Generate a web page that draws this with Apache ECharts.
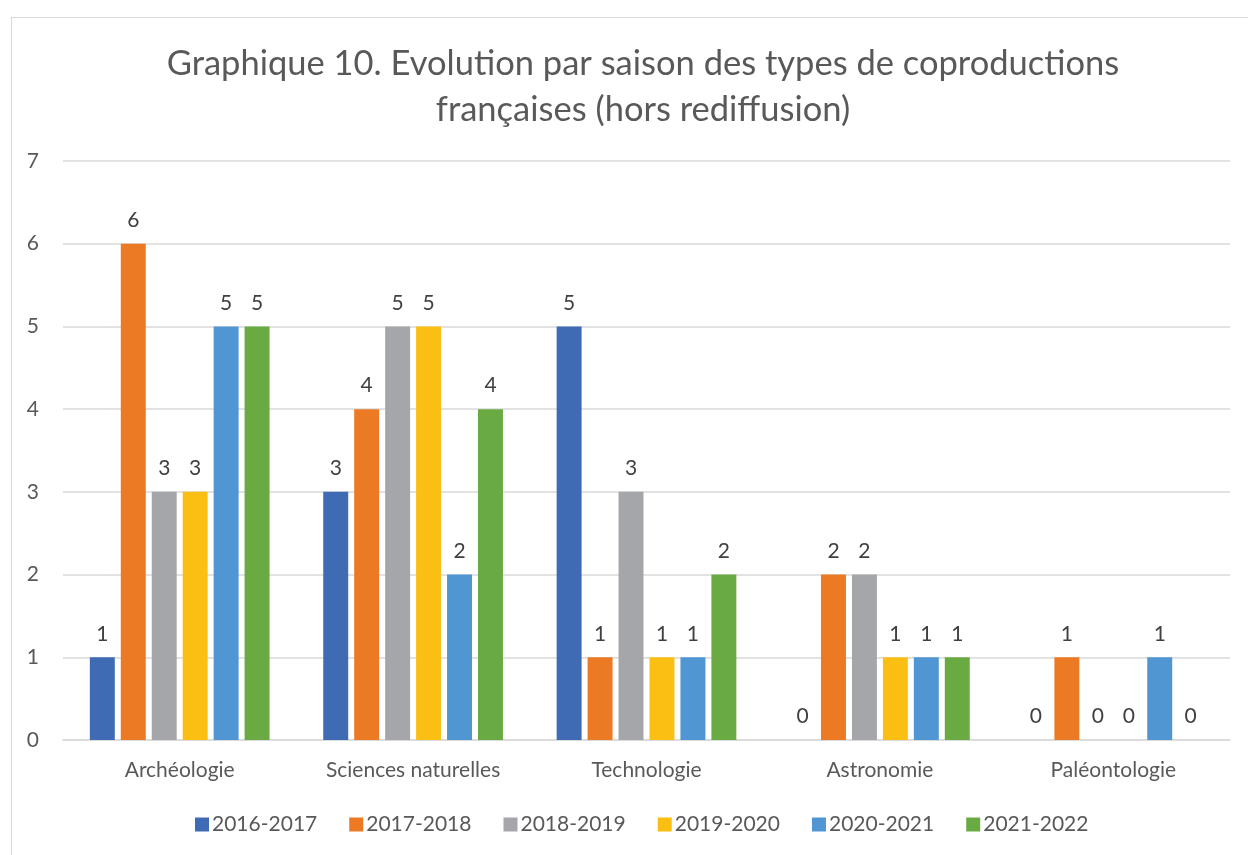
<!DOCTYPE html>
<html>
<head>
<meta charset="utf-8">
<script src="https://cdn.jsdelivr.net/npm/echarts@6/dist/echarts.min.js"></script>
<style>
html,body{margin:0;padding:0;background:#fff;}
#frame{position:absolute;left:11px;top:17px;width:1260px;height:860px;border:1px solid #d9d9d9;box-sizing:border-box;}
#chart{position:absolute;left:0;top:0;width:1248px;height:855px;}
</style>
</head>
<body>
<div id="frame"></div>
<div id="chart"></div>
<script>
const categories = ['Archéologie', 'Sciences naturelles', 'Technologie', 'Astronomie', 'Paléontologie'];
const seasons = ['2016-2017', '2017-2018', '2018-2019', '2019-2020', '2020-2021', '2021-2022'];
const s2016 = [1, 3, 5, 0, 0];
const s2017 = [6, 4, 1, 2, 1];
const s2018 = [3, 5, 3, 2, 0];
const s2019 = [3, 5, 1, 1, 0];
const s2020 = [5, 2, 1, 1, 1];
const s2021 = [5, 4, 2, 1, 0];
const yTicks = [0, 7, 1];
const colors = ['#3E6BB4', '#EC7A25', '#A5A6A9', '#FBBF13', '#5096D3', '#6AAA43'];
const values = [s2016, s2017, s2018, s2019, s2020, s2021];
const FONT = 'Lato';
const chart = echarts.init(document.getElementById('chart'), null, {renderer: 'canvas'});
chart.setOption({
  animation: false,
  color: colors,
  title: {
    text: 'Graphique 10. Evolution par saison des types de coproductions\nfrançaises (hors rediffusion)',
    left: 638, top: 36, textAlign: 'center',
    textStyle: {fontFamily: FONT, fontSize: 34.5, fontWeight: 'normal', color: '#595959', lineHeight: 46}
  },
  legend: {
    data: seasons, bottom: 15, left: 190, itemWidth: 14, itemHeight: 14, itemGap: 32,
    icon: 'rect',
    textStyle: {fontFamily: FONT, fontSize: 21, color: '#595959', padding: [0,0,0,-2]}
  },
  grid: {left: 63, right: 18, top: 161, bottom: 115, containLabel: false},
  xAxis: {
    type: 'category', data: categories,
    axisLine: {show: true, lineStyle: {color: '#d9d9d9', width: 1.5}},
    axisTick: {show: false},
    axisLabel: {fontFamily: FONT, fontSize: 21, color: '#595959', margin: 20}
  },
  yAxis: {
    type: 'value', min: yTicks[0], max: yTicks[1], interval: yTicks[2],
    axisLine: {show: false}, axisTick: {show: false},
    splitLine: {lineStyle: {color: '#d9d9d9', width: 1.5}},
    axisLabel: {fontFamily: FONT, fontSize: 21, color: '#595959', margin: 24}
  },
  series: seasons.map((name, i) => ({
    name, type: 'bar', data: values[i],
    barGap: '24%', barCategoryGap: '23%',
    label: {show: true, position: 'top', distance: 13, fontFamily: FONT, fontSize: 21, color: '#404040'}
  }))
});
</script>
</body>
</html>
